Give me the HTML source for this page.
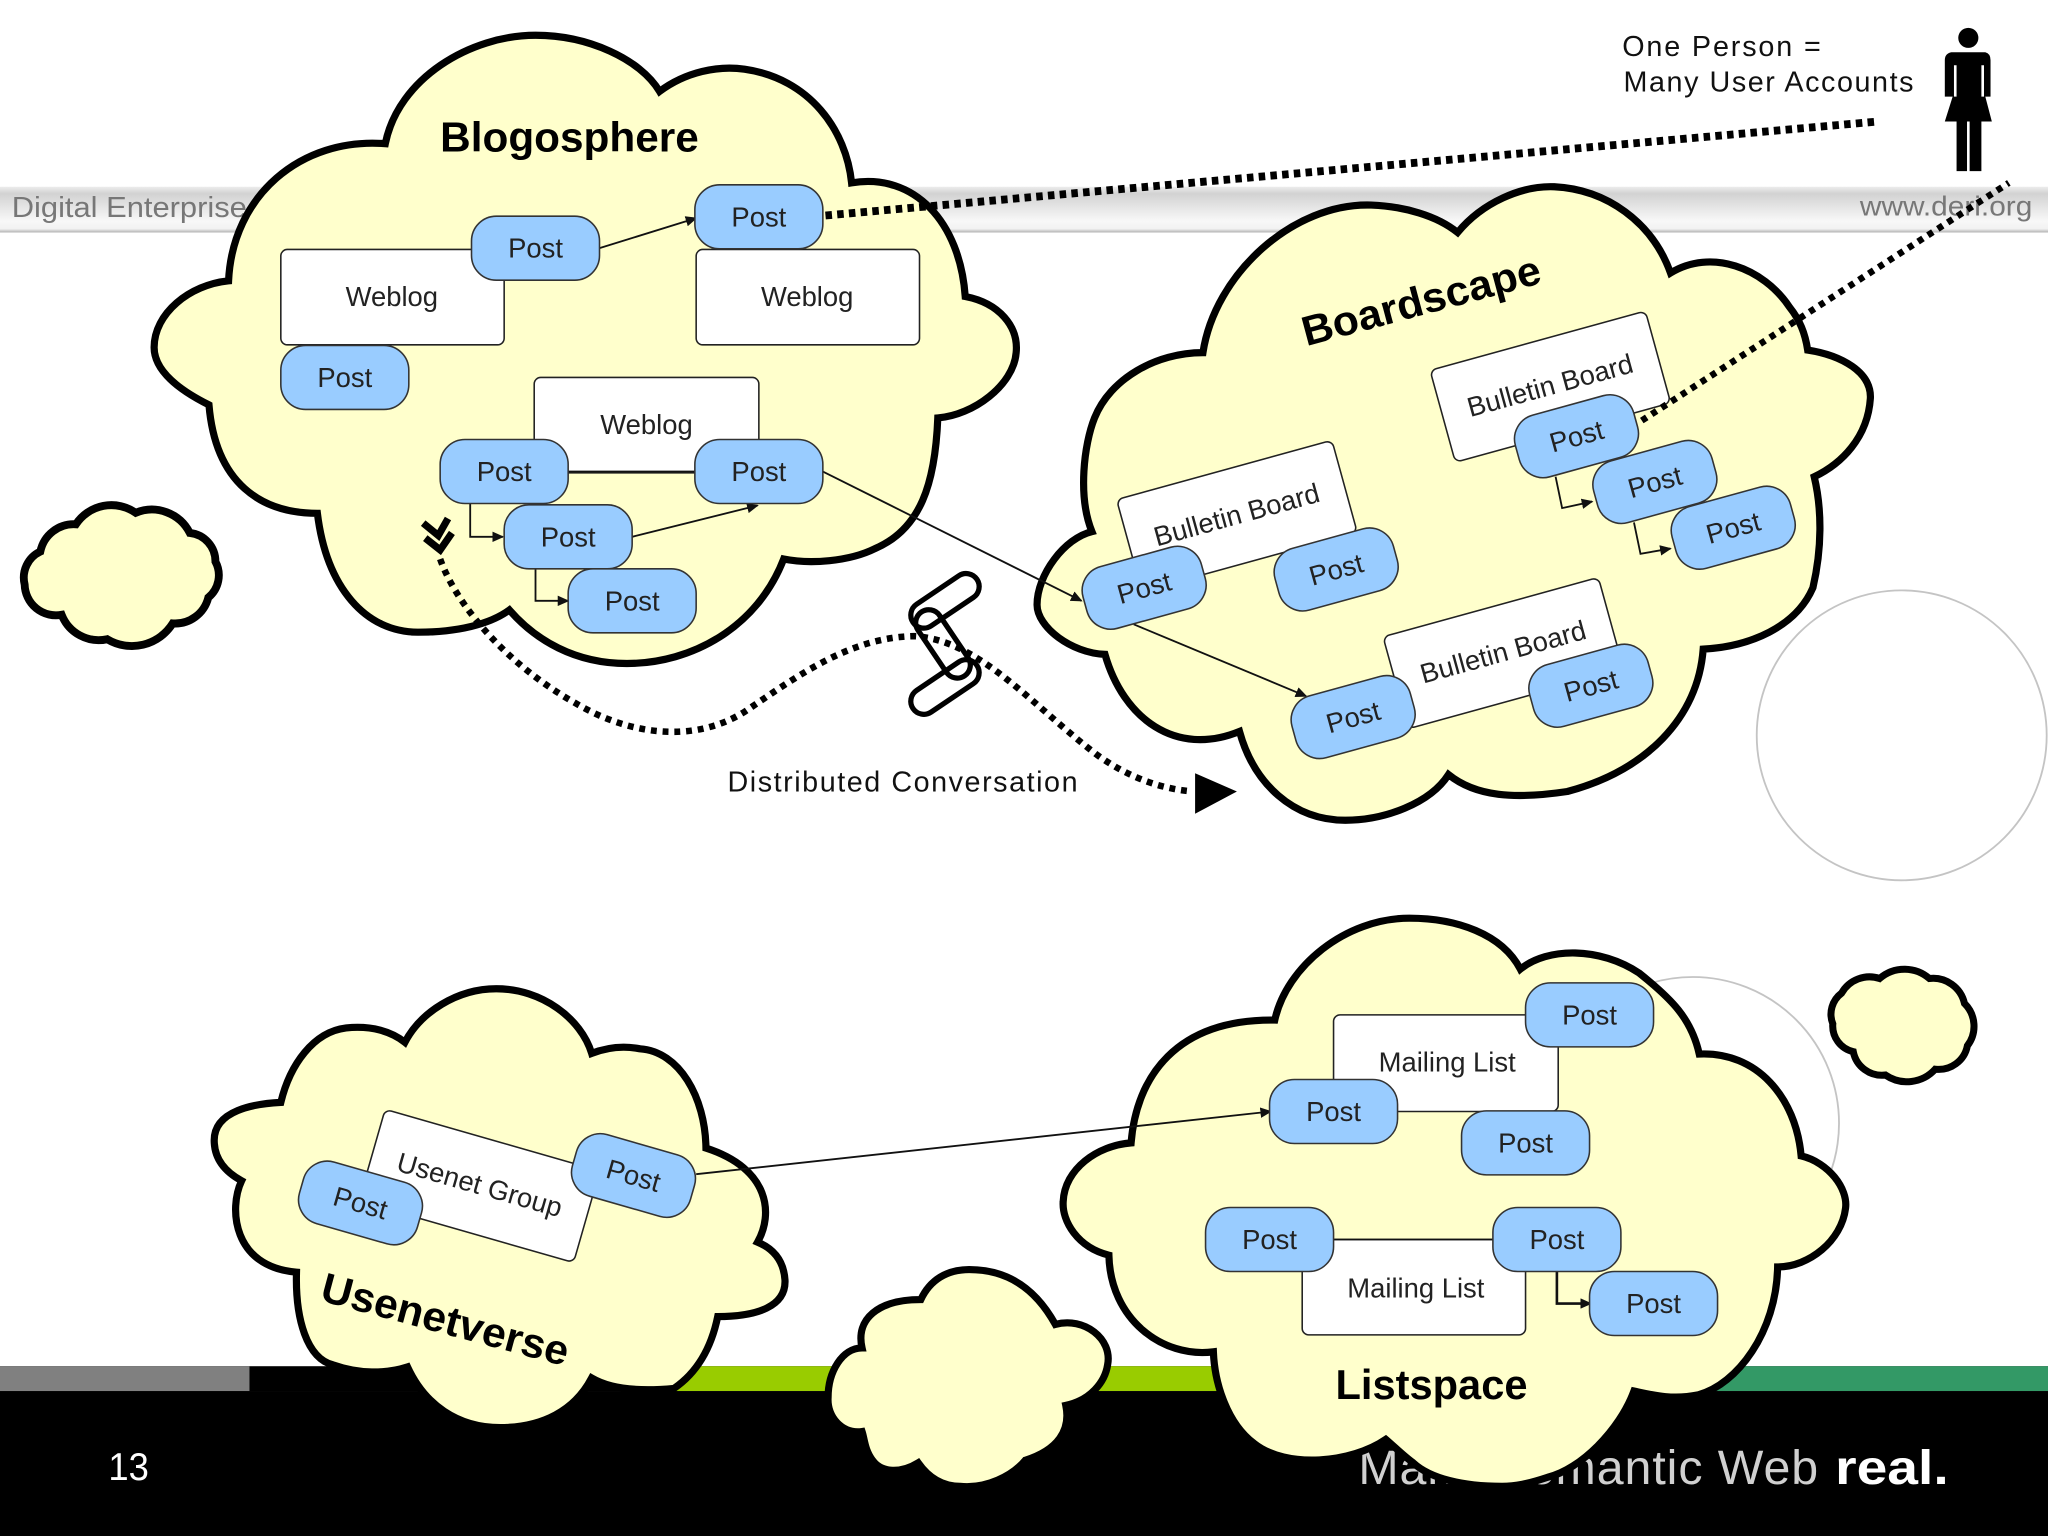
<!DOCTYPE html>
<html>
<head>
<meta charset="utf-8">
<style>
html,body{margin:0;padding:0;background:#fff;width:2048px;height:1536px;overflow:hidden}
svg{display:block}
text{font-family:"Liberation Sans",sans-serif}
.cloud{fill:#ffffcc;stroke:#000;stroke-width:5.5;stroke-linejoin:miter}
.post rect{fill:#99ccff;stroke:#333;stroke-width:1.2}
.post text,.box text{font-size:21px;text-anchor:middle;fill:#222;dominant-baseline:central}
.box rect{fill:#fff;stroke:#222;stroke-width:1.2}
.title{font-size:32px;font-weight:bold;fill:#000;text-anchor:middle;dominant-baseline:central}
.ln{fill:none;stroke:#111;stroke-width:1.4}
.dot{fill:none;stroke:#000;stroke-width:6;stroke-dasharray:5 4}
</style>
</head>
<body>
<svg width="2048" height="1536" viewBox="0 0 1568 1176" xmlns="http://www.w3.org/2000/svg">
<defs>
<linearGradient id="band" x1="0" y1="0" x2="0" y2="1">
<stop offset="0" stop-color="#ececec"/><stop offset=".15" stop-color="#d2d2d2"/><stop offset=".75" stop-color="#f8f8f8"/><stop offset=".92" stop-color="#f2f2f2"/><stop offset="1" stop-color="#b0b0b0"/>
</linearGradient>
<marker id="ah" markerWidth="9" markerHeight="8" refX="8" refY="4" orient="auto" markerUnits="userSpaceOnUse"><path d="M0,0 L9,4 L0,8 Z" fill="#111"/></marker>
</defs>

<rect width="1568" height="1176" fill="#fff"/>
<!-- header band -->
<rect x="0" y="143" width="1568" height="35" fill="url(#band)"/>
<text x="9" y="166" font-size="22" fill="#777" textLength="180" lengthAdjust="spacingAndGlyphs">Digital Enterprise</text>
<text x="1424" y="165" font-size="21" fill="#777" textLength="132" lengthAdjust="spacingAndGlyphs">www.deri.org</text>

<!-- footer -->
<rect x="0" y="1065" width="1568" height="111" fill="#000"/>
<rect x="0" y="1046" width="1568" height="19" fill="#000"/>
<rect x="0" y="1046" width="191" height="19" fill="#808080"/>
<rect x="510" y="1046" width="510" height="19" fill="#99cc00"/>
<rect x="1020" y="1046" width="548" height="19" fill="#339966"/>
<text x="83" y="1133" font-size="30" fill="#fff" textLength="31" lengthAdjust="spacingAndGlyphs">13</text>
<text x="1040" y="1136" font-size="37" fill="#d0d0d0" textLength="352" lengthAdjust="spacing">Make Semantic Web</text>
<text x="1405" y="1136" font-size="37" font-weight="bold" fill="#fff" textLength="87" lengthAdjust="spacingAndGlyphs">real.</text>

<!-- decorative circles -->
<circle cx="1456" cy="563" r="111" fill="#fff" stroke="#c4c4c4" stroke-width="1.4"/>
<circle cx="1296" cy="860" r="112" fill="#fff" stroke="#c4c4c4" stroke-width="1.4"/>

<!-- clouds -->
<path class="cloud" d="M295,110 C305,60 360,27 410,27 C450,27 490,45 505,70 C525,55 550,50 570,53 C620,60 648,100 652,140 C700,132 735,170 739,227 C765,232 780,250 778,270 C776,295 745,318 718,320 C716,370 705,405 670,420 C650,430 620,432 600,428 C580,480 530,508 480,508 C440,508 410,490 390,467 C375,478 350,484 320,484 C280,484 250,450 243,393 C200,393 165,370 160,310 C130,295 118,280 118,266 C118,240 145,218 175,215 C178,150 230,105 295,110 Z"/>
<path class="cloud" d="M921,270 C930,210 990,155 1050,157 C1075,158 1100,165 1116,178 C1135,155 1165,142 1190,143 C1230,145 1265,170 1279,209 C1310,190 1350,205 1370,235 C1378,245 1382,255 1384,268 C1410,272 1433,285 1432,305 C1430,335 1410,355 1389,365 C1395,390 1395,420 1388,450 C1375,480 1340,495 1304,497 C1300,550 1260,590 1200,606 C1160,612 1130,610 1109,593 C1095,615 1060,628 1030,628 C990,628 960,600 949,560 C900,580 860,550 846,501 C820,500 794,480 794,463 C794,440 815,412 836,407 C825,380 830,340 838,320 C850,290 885,270 921,270 Z"/>
<path class="cloud" d="M215,844 C195,845 164,850 164,873 C164,887 172,897 185,904 C175,925 178,970 227,974 C226,1010 235,1040 255,1045 C275,1052 295,1052 312,1046.5 C325,1075 350,1093 383,1093 C415,1093 440,1080 453,1055 C470,1065 495,1065 516,1063 C535,1050 545,1030 549.5,1008 C580,1008 602,1000 601,980 C600,965 592,956 580,951 C592,930 590,895 540.5,879 C540,840 520,805 490,803 C475,800 462,803 453,806.5 C445,780 415,757 380,757 C350,757 322,775 310,798 C300,790 285,785 265,787 C240,790 222,815 215,844 Z"/>
<path class="cloud" d="M660,1032 C655,1010 672,995 705,995 C712,980 725,972 742,972 C770,972 792,985 808,1014 C830,1008 852,1025 848,1045 C846,1058 835,1072 816,1076 C820,1095 810,1110 785,1118 C775,1130 755,1140 735,1138 C720,1138 710,1130 703,1120 C690,1128 675,1128 668,1118 C662,1110 662,1102 660,1096 C645,1098 633,1085 634,1070 C634,1050 645,1032 660,1032 Z"/>
<path class="cloud" d="M976,781 C985,740 1030,703 1079,703 C1115,703 1150,715 1164,742 C1185,725 1225,725 1255,745 C1280,765 1295,780 1301,807 C1345,805 1375,840 1379,885 C1400,890 1415,910 1413,925 C1410,950 1385,970 1361,970 C1360,1020 1330,1060 1300,1068 C1280,1072 1265,1068 1251,1065 C1240,1095 1210,1125 1185,1131 C1170,1136 1160,1138 1150,1138 C1120,1138 1095,1132 1082,1120 C1075,1115 1068,1108 1061,1102 C1035,1120 985,1125 960,1105 C940,1090 930,1060 929,1035 C890,1040 850,1010 849,961 C825,955 813,935 814,920 C815,895 840,877 866,875 C870,825 900,780 976,781 Z"/>
<g transform="translate(93,441) scale(1.09,1.1) translate(-92,-441)">
<path class="cloud" d="M35,424 A24,24 0 0 1 60,405 A30,30 0 0 1 102,397 A30,30 0 0 1 140,411 A20,20 0 0 1 158,431 A20,20 0 0 1 153,456 A24,24 0 0 1 128,474 A34,34 0 0 1 82,485 A28,28 0 0 1 50,468 A22,22 0 0 1 24,447 A20,20 0 0 1 35,424 Z"/>
</g>
<g transform="translate(1457,785) scale(1.12,1.12) translate(-1454,-786)">
<path class="cloud" style="stroke-width:4.8" d="M1412,764 A22,22 0 0 1 1438,754 A26,26 0 0 1 1472,754 A22,22 0 0 1 1496,771 A22,22 0 0 1 1498,800 A20,20 0 0 1 1476,816 A26,26 0 0 1 1442,820 A20,20 0 0 1 1420,804 A18,18 0 0 1 1406,785 A18,18 0 0 1 1412,764 Z"/>
</g>

<!-- titles -->
<text class="title" x="436" y="105" textLength="198" lengthAdjust="spacingAndGlyphs">Blogosphere</text>
<text class="title" transform="translate(1088,230) rotate(-15)" textLength="188" lengthAdjust="spacingAndGlyphs">Boardscape</text>
<text class="title" transform="translate(341,1010) rotate(15)" textLength="195" lengthAdjust="spacingAndGlyphs">Usenetverse</text>
<text class="title" x="1096" y="1060" textLength="147" lengthAdjust="spacingAndGlyphs">Listspace</text>

<!-- boxes -->
<g class="box"><rect x="215" y="191" width="171" height="73" rx="5"/><text x="300" y="227">Weblog</text></g>
<g class="box"><rect x="533" y="191" width="171" height="73" rx="5"/><text x="618" y="227">Weblog</text></g>
<g class="box"><rect x="409" y="289" width="172" height="73" rx="5"/><text x="495" y="325">Weblog</text></g>
<g class="box" transform="translate(947,395) rotate(-15.4)"><rect x="-85.5" y="-36.5" width="171" height="73" rx="5"/><text y="-1" font-size="21">Bulletin Board</text></g>
<g class="box" transform="translate(1187,296) rotate(-15.4)"><rect x="-85.5" y="-36.5" width="171" height="73" rx="5"/><text y="-1">Bulletin Board</text></g>
<g class="box" transform="translate(1151,500) rotate(-15.4)"><rect x="-85.5" y="-36.5" width="171" height="73" rx="5"/><text y="-1">Bulletin Board</text></g>
<g class="box" transform="translate(367,908) rotate(16)"><rect x="-85.5" y="-36.5" width="171" height="73" rx="5"/><text y="-1">Usenet Group</text></g>
<g class="box"><rect x="1021" y="777" width="172" height="74" rx="5"/><text x="1108" y="813">Mailing List</text></g>
<g class="box"><rect x="997" y="949" width="171" height="73" rx="5"/><text x="1084" y="986">Mailing List</text></g>

<!-- connectors -->
<line class="ln" x1="459" y1="190" x2="533" y2="167" marker-end="url(#ah)"/>
<line class="ln" x1="484" y1="411" x2="580" y2="387" marker-end="url(#ah)"/>
<line class="ln" x1="434" y1="361" x2="533" y2="361"/>
<polyline class="ln" points="360,385 360,411 385,411" marker-end="url(#ah)"/>
<polyline class="ln" points="410,435 410,460 435,460" marker-end="url(#ah)"/>
<line class="ln" x1="630" y1="361" x2="828" y2="460" marker-end="url(#ah)"/>
<line class="ln" x1="868" y1="478" x2="1000" y2="533" marker-end="url(#ah)"/>
<polyline class="ln" points="1191,365 1196,389 1219,384" marker-end="url(#ah)"/>
<polyline class="ln" points="1251,400 1256,424 1279,420" marker-end="url(#ah)"/>
<line class="ln" x1="533" y1="899" x2="973" y2="851" marker-end="url(#ah)"/>
<line class="ln" x1="1021" y1="949" x2="1144" y2="949"/>
<polyline class="ln" points="1192,973 1192,998 1218,998" marker-end="url(#ah)" style="stroke-width:2"/>

<!-- posts -->
<g class="post">
<g transform="translate(410,190)"><rect x="-49" y="-24.5" width="98" height="49" rx="19"/><text>Post</text></g>
<g transform="translate(581,166)"><rect x="-49" y="-24.5" width="98" height="49" rx="19"/><text>Post</text></g>
<g transform="translate(264,289)"><rect x="-49" y="-24.5" width="98" height="49" rx="19"/><text>Post</text></g>
<g transform="translate(386,361)"><rect x="-49" y="-24.5" width="98" height="49" rx="19"/><text>Post</text></g>
<g transform="translate(581,361)"><rect x="-49" y="-24.5" width="98" height="49" rx="19"/><text>Post</text></g>
<g transform="translate(435,411)"><rect x="-49" y="-24.5" width="98" height="49" rx="19"/><text>Post</text></g>
<g transform="translate(484,460)"><rect x="-49" y="-24.5" width="98" height="49" rx="19"/><text>Post</text></g>
<g transform="translate(876,450) rotate(-15.4)"><rect x="-47" y="-24.5" width="94" height="49" rx="19"/><text>Post</text></g>
<g transform="translate(1023,436) rotate(-15.4)"><rect x="-47" y="-24.5" width="94" height="49" rx="19"/><text>Post</text></g>
<g transform="translate(1036,549) rotate(-15.4)"><rect x="-47" y="-24.5" width="94" height="49" rx="19"/><text>Post</text></g>
<g transform="translate(1218,525) rotate(-15.4)"><rect x="-47" y="-24.5" width="94" height="49" rx="19"/><text>Post</text></g>
<g transform="translate(1207,334) rotate(-15.4)"><rect x="-47" y="-24.5" width="94" height="49" rx="19"/><text>Post</text></g>
<g transform="translate(1267,369) rotate(-15.4)"><rect x="-47" y="-24.5" width="94" height="49" rx="19"/><text>Post</text></g>
<g transform="translate(1327,404) rotate(-15.4)"><rect x="-47" y="-24.5" width="94" height="49" rx="19"/><text>Post</text></g>
<g transform="translate(276,921) rotate(16)"><rect x="-47" y="-24.5" width="94" height="49" rx="19"/><text>Post</text></g>
<g transform="translate(485,900) rotate(16)"><rect x="-47" y="-24.5" width="94" height="49" rx="19"/><text>Post</text></g>
<g transform="translate(1217,777)"><rect x="-49" y="-24.5" width="98" height="49" rx="19"/><text>Post</text></g>
<g transform="translate(1021,851)"><rect x="-49" y="-24.5" width="98" height="49" rx="19"/><text>Post</text></g>
<g transform="translate(1168,875)"><rect x="-49" y="-24.5" width="98" height="49" rx="19"/><text>Post</text></g>
<g transform="translate(972,949)"><rect x="-49" y="-24.5" width="98" height="49" rx="19"/><text>Post</text></g>
<g transform="translate(1192,949)"><rect x="-49" y="-24.5" width="98" height="49" rx="19"/><text>Post</text></g>
<g transform="translate(1266,998)"><rect x="-49" y="-24.5" width="98" height="49" rx="19"/><text>Post</text></g>
</g>

<!-- dotted identity lines -->
<line class="dot" x1="632" y1="165" x2="1438" y2="93"/>
<line class="dot" x1="1257" y1="322" x2="1538" y2="140" style="stroke-width:5;stroke-dasharray:4.5 4.5"/>

<!-- distributed conversation -->
<path class="dot" style="stroke-width:5;stroke-dasharray:4.5 4.5" d="M337,428 C350,465 390,510 440,538 C480,562 530,570 570,545 C610,518 650,488 700,487 C750,490 790,540 840,578 C865,596 890,604 913,606"/>
<path d="M915,592 L947,606 L915,623 Z" fill="#000"/>
<path d="M324,400.5 L335.6,410 L343,397 M325.6,412 L337,421 L346,408" fill="none" stroke="#000" stroke-width="5.5"/>

<!-- chain -->
<g fill="none" stroke="#000" stroke-width="4">
<rect x="-29.5" y="-10" width="59" height="20" rx="10" transform="translate(723.5,460) rotate(-34)"/>
<rect x="-29.5" y="-10" width="59" height="20" rx="10" transform="translate(723.5,526) rotate(-34)"/>
<rect x="-29.5" y="-10" width="59" height="20" rx="10" transform="translate(722,493) rotate(56)"/>
</g>

<!-- person -->
<g fill="#000">
<circle cx="1507" cy="29" r="7.7"/>
<path d="M1494,40 L1520,40 Q1524,41 1524,46 L1524,74 L1519,74 L1519,50 L1517,50 L1517,74 L1520,74 L1525,93 L1517,93 L1517,131 L1508,131 L1508,93 L1506,93 L1506,131 L1498,131 L1498,93 L1489,93 L1495,74 L1498,74 L1498,50 L1496,50 L1496,74 L1489,74 L1489,46 Q1489,41 1494,40 Z"/>
</g>

<!-- labels -->
<text x="1242" y="43" font-size="22" fill="#111" textLength="152" lengthAdjust="spacing">One Person =</text>
<text x="1243" y="70" font-size="22" fill="#111" textLength="222" lengthAdjust="spacing">Many User Accounts</text>
<text x="557" y="606" font-size="22" fill="#111" textLength="268" lengthAdjust="spacing">Distributed Conversation</text>
</svg>
</body>
</html>
